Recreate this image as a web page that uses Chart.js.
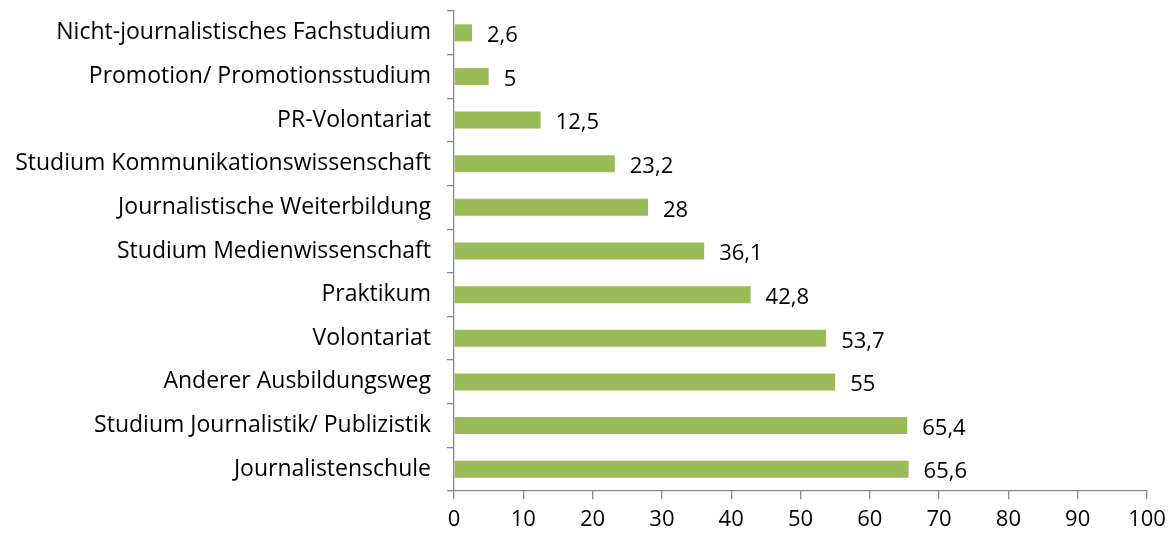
<!DOCTYPE html>
<html>
<head>
<meta charset="utf-8">
<script src="https://cdn.jsdelivr.net/npm/chart.js@4"></script>
<style>
  html, body { margin: 0; padding: 0; background: #fff; }
  #wrap { width: 1175px; height: 537px; }
</style>
</head>
<body>
<div id="wrap"><canvas id="barChart"></canvas></div>
<script>
// Kategorien und Werte
var categories = [
  "Nicht-journalistisches Fachstudium",
  "Promotion/ Promotionsstudium",
  "PR-Volontariat",
  "Studium Kommunikationswissenschaft",
  "Journalistische Weiterbildung",
  "Studium Medienwissenschaft",
  "Praktikum",
  "Volontariat",
  "Anderer Ausbildungsweg",
  "Studium Journalistik/ Publizistik",
  "Journalistenschule"
];
var values = [2.6, 5, 12.5, 23.2, 28, 36.1, 42.8, 53.7, 55, 65.4, 65.6];
var xTicks = [0, 10, 20, 30, 40, 50, 60, 70, 80, 90, 100];

var fontFamily = "'Open Sans', sans-serif";
var axisGrey = "#868686";

// Werte rechts neben den Balken schreiben
var valueLabels = {
  id: "valueLabels",
  afterDatasetsDraw: function(chart) {
    var ctx = chart.ctx;
    var meta = chart.getDatasetMeta(0);
    ctx.save();
    ctx.font = "22px " + fontFamily;
    ctx.fillStyle = "#000";
    ctx.textBaseline = "middle";
    ctx.textAlign = "left";
    meta.data.forEach(function(bar, i) {
      var txt = String(values[i]).replace(".", ",");
      ctx.fillText(txt, bar.x + 15, bar.y + 3);
    });
    ctx.restore();
  }
};

var ctx = document.getElementById("barChart").getContext("2d");
var chart = new Chart(ctx, {
  type: "bar",
  data: {
    labels: categories,
    datasets: [{
      data: values,
      backgroundColor: "#9BBB59",
      categoryPercentage: 1,
      barPercentage: 0.39
    }]
  },
  options: {
    indexAxis: "y",
    responsive: true,
    maintainAspectRatio: false,
    animation: false,
    layout: { padding: { top: 11, right: 28, left: 0, bottom: 0 } },
    plugins: {
      legend: { display: false },
      tooltip: { enabled: false }
    },
    scales: {
      x: {
        min: 0,
        max: 100,
        afterBuildTicks: function(scale) {
          scale.ticks = xTicks.map(function(v) { return { value: v }; });
        },
        afterFit: function(scale) {
          scale.height = 46;
          scale.paddingLeft = 0;
          scale.paddingRight = 0;
        },
        grid: { drawOnChartArea: false, color: axisGrey, tickLength: 8, lineWidth: 1.3 },
        border: { color: axisGrey, width: 1.3 },
        ticks: { color: "#000", font: { family: fontFamily, size: 22 }, padding: 8 }
      },
      y: {
        afterFit: function(scale) {
          scale.width = 454;
          scale.paddingTop = 0;
          scale.paddingBottom = 0;
        },
        grid: { drawOnChartArea: false, color: axisGrey, tickLength: 7, lineWidth: 1.3, offset: true },
        border: { color: axisGrey, width: 1.3 },
        ticks: { color: "#000", font: { family: fontFamily, size: 23 }, padding: 16 }
      }
    }
  },
  plugins: [valueLabels]
});
</script>
</body>
</html>
